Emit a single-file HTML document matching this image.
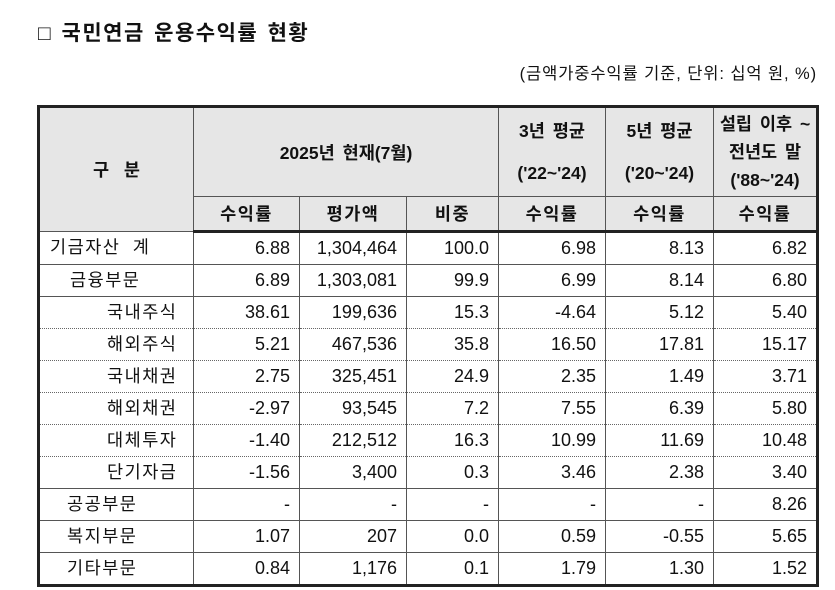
<!DOCTYPE html>
<html><head><meta charset="utf-8"><style>
body{margin:0;background:#fff;width:835px;height:590px;position:relative;font-family:"Liberation Sans","Noto Sans CJK KR",sans-serif;color:#111}
.t{position:absolute;left:38px;top:17px;font-size:21px;font-weight:bold;letter-spacing:1.5px;word-spacing:2px}
.s{position:absolute;right:18px;top:60px;font-size:16.5px;letter-spacing:0.9px}
table{position:absolute;left:37px;top:105px;border-collapse:collapse;table-layout:fixed;border:3px solid #222}
td{padding:0 9px;font-size:18px;height:31px;border:1px solid #555;text-align:right;white-space:nowrap}
th{background:#e6e6e6;border:1px solid #555;font-size:17.5px;font-weight:bold;padding:0;word-spacing:3px}
tr.hd2 th{height:33px;border-bottom:3px solid #222;letter-spacing:1.5px}
td.l,td.i{text-align:left;font-size:17.5px;letter-spacing:1.5px;padding-bottom:3px;height:28px}
td.l{padding-left:10px}
td.i{padding-left:67px}
tr.d td{border-bottom:1px dotted #666}
tr.d2 td{border-top:1px dotted #666}
</style></head><body>
<div class="t">□ 국민연금 운용수익률 현황</div>
<div class="s">(금액가중수익률 기준, 단위: 십억 원, %)</div>
<table>
<colgroup><col style="width:155px"><col style="width:106px"><col style="width:107px"><col style="width:92px"><col style="width:107px"><col style="width:108px"><col style="width:104px"></colgroup>
<tr><th rowspan="2" style="height:88px;word-spacing:10px">구 분</th><th colspan="3" style="height:88px">2025년 현재(7월)</th>
<th style="line-height:42px">3년 평균<br>('22~'24)</th><th style="line-height:42px">5년 평균<br>('20~'24)</th><th style="line-height:28px">설립 이후 ~<br>전년도 말<br>('88~'24)</th></tr>
<tr class="hd2"><th>수익률</th><th>평가액</th><th>비중</th><th>수익률</th><th>수익률</th><th>수익률</th></tr>
<tr><td class="l" style="word-spacing:6px">기금자산 계</td><td>6.88</td><td>1,304,464</td><td>100.0</td><td>6.98</td><td>8.13</td><td>6.82</td></tr>
<tr><td class="l" style="padding-left:30px">금융부문</td><td>6.89</td><td>1,303,081</td><td>99.9</td><td>6.99</td><td>8.14</td><td>6.80</td></tr>
<tr class="d"><td class="i">국내주식</td><td>38.61</td><td>199,636</td><td>15.3</td><td>-4.64</td><td>5.12</td><td>5.40</td></tr>
<tr class="d d2"><td class="i">해외주식</td><td>5.21</td><td>467,536</td><td>35.8</td><td>16.50</td><td>17.81</td><td>15.17</td></tr>
<tr class="d d2"><td class="i">국내채권</td><td>2.75</td><td>325,451</td><td>24.9</td><td>2.35</td><td>1.49</td><td>3.71</td></tr>
<tr class="d d2"><td class="i">해외채권</td><td>-2.97</td><td>93,545</td><td>7.2</td><td>7.55</td><td>6.39</td><td>5.80</td></tr>
<tr class="d d2"><td class="i">대체투자</td><td>-1.40</td><td>212,512</td><td>16.3</td><td>10.99</td><td>11.69</td><td>10.48</td></tr>
<tr class="d2"><td class="i">단기자금</td><td>-1.56</td><td>3,400</td><td>0.3</td><td>3.46</td><td>2.38</td><td>3.40</td></tr>
<tr><td class="l" style="padding-left:27px">공공부문</td><td>-</td><td>-</td><td>-</td><td>-</td><td>-</td><td>8.26</td></tr>
<tr><td class="l" style="padding-left:27px">복지부문</td><td>1.07</td><td>207</td><td>0.0</td><td>0.59</td><td>-0.55</td><td>5.65</td></tr>
<tr><td class="l" style="padding-left:27px">기타부문</td><td>0.84</td><td>1,176</td><td>0.1</td><td>1.79</td><td>1.30</td><td>1.52</td></tr>
</table>
</body></html>
